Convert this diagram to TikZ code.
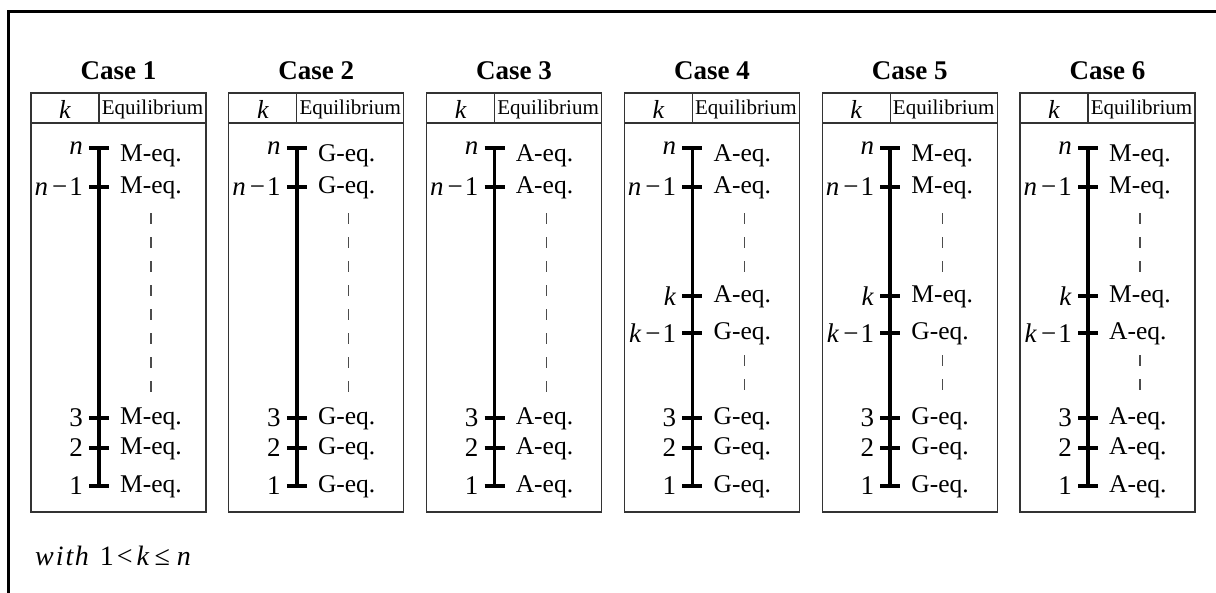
\documentclass[tikz,border=0pt]{standalone}
\usepackage{fontspec}
\setmainfont{Liberation Serif}
\begin{document}
\begin{tikzpicture}[x=1pt,y=-1pt,
  frame/.style={line width=2.6pt},
  casebox/.style={draw=black!80,line width=1.3pt},
  spine/.style={line width=3.6pt},
  guide/.style={draw=black!70,line width=1.2pt,dash pattern=on 11pt off 13pt},
  casetitle/.style={inner sep=0pt,font=\fontsize{27}{30}\selectfont\bfseries},
  headk/.style={inner sep=0pt,anchor=base,font=\fontsize{26}{30}\selectfont\itshape},
  headeq/.style={inner sep=0pt,anchor=base,font=\fontsize{21}{24}\selectfont},
  idx/.style={inner sep=0pt,anchor=east,font=\fontsize{27}{30}\selectfont},
  eqlab/.style={inner sep=0pt,anchor=west,font=\fontsize{25.5}{28}\selectfont},
  note/.style={inner sep=0pt,anchor=base west,font=\fontsize{28}{30}\selectfont},
]
\useasboundingbox (0,0) rectangle (1216,592);

% outer frame (runs past the right and bottom edges)
\draw[frame] (8.7,11.3) rectangle (1240,620);

\foreach \i/\up/\lo/\split in {1/M/M/0,2/G/G/0,3/A/A/0,4/A/G/1,5/M/G/1,6/M/A/1}{
  \begin{scope}[shift={({31+197.8*(\i-1)},0)}]
    % table frame with header row
    \draw[casebox] (0,93) rectangle (175,512);
    \draw[casebox] (0,123) -- (175,123);
    \draw[casebox] (68,93) -- (68,123);
    \node[casetitle] (c\i-title) at (87.5,71) {Case \i};
    \node[headk] (c\i-hk) at (34,118) {k};
    \node[headeq] (c\i-heq) at (121.5,114) {Equilibrium};

    % level axis
    \coordinate (c\i-top) at (68,148);
    \coordinate (c\i-bot) at (68,486);
    \draw[spine] (c\i-top) -- (c\i-bot);

    % upper levels
    \foreach \r/\y/\dy/\lab in {n/148/8/{\textit{n}},nm/187/1/{\textit{n}\kern4pt−\kern2pt1}}{
      \draw[spine] (58,\y) -- (78,\y);
      \node[idx] (c\i-l\r) at (52,\y) {\lab};
      \node[eqlab] (c\i-e\r) at (89,\y+\dy) {\up-eq.};
    }
    % lower levels
    \foreach \r/\y/\lab in {3/418/3,2/448/2,1/486/1}{
      \draw[spine] (58,\y) -- (78,\y);
      \node[idx] (c\i-l\r) at (52,\y) {\lab};
      \node[eqlab] (c\i-e\r) at (89,\y+1) {\lo-eq.};
    }

    \ifnum\split=1
      % the switching level k
      \draw[spine] (58,296) -- (78,296);
      \node[idx] (c\i-lk) at (52,296) {\textit{k}};
      \node[eqlab] (c\i-ek) at (89,297) {\up-eq.};
      \draw[spine] (58,333) -- (78,333);
      \node[idx] (c\i-lkm) at (52,333) {\textit{k}\kern4pt−\kern2pt1};
      \node[eqlab] (c\i-ekm) at (89,334) {\lo-eq.};
      \coordinate (c\i-g1) at (120,213);
      \coordinate (c\i-g2) at (120,273);
      \coordinate (c\i-g3) at (120,355);
      \coordinate (c\i-g4) at (120,392);
      \draw[guide] (c\i-g1) -- (c\i-g2);
      \draw[guide] (c\i-g3) -- (c\i-g4);
    \else
      \coordinate (c\i-g1) at (120,213);
      \coordinate (c\i-g4) at (120,392);
      \draw[guide] (c\i-g1) -- (c\i-g4);
    \fi
  \end{scope}
}

\node[note] (range) at (35,565)
  {\textit{w\kern2pt i\kern2pt t\kern1.5pt h}\kern11pt1\kern3pt<\kern4pt\textit{k}\kern5pt≤\kern7pt\textit{n}};
\end{tikzpicture}
\end{document}
